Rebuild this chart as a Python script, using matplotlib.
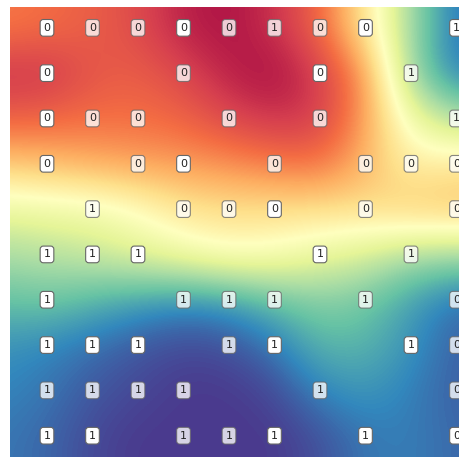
import numpy as np
import matplotlib
matplotlib.use("Agg")
import matplotlib.pyplot as plt
from matplotlib.colors import LinearSegmentedColormap

# class labels at each grid node, "." = no sample
labelRows = [
  "00000100.1",
  "0..0..0.1.",
  "000.0.0..1",
  "0.00.0.000",
  ".1.000.0.0",
  "111...1.1.",
  "1..111.1.0",
  "111.11..10",
  "1111..1..0",
  "11.111.1.0",
]

# box opacity per label: W = solid, t = see-through
boxRows = [
  "WttWtttW.W",
  "W..t..W.t.",
  "Wtt.t.t..t",
  "W.tW.t.ttt",
  ".t.ttW.t.t",
  "WWW...W.t.",
  "W..ttt.t.t",
  "WWW.tW..Wt",
  "tttt..t..t",
  "WW.ttW.W.W",
]

# probability surface, columns -1..9, rows 0..9
surface = [
  [0.22, 0.20, 0.17, 0.13, 0.05, 0.03, 0.08, 0.18, 0.42, 0.72, 0.93],
  [0.08, 0.08, 0.15, 0.17, 0.12, 0.05, 0.02, 0.10, 0.25, 0.74, 0.92],
  [0.17, 0.18, 0.20, 0.20, 0.18, 0.12, 0.08, 0.10, 0.27, 0.56, 0.70],
  [0.35, 0.33, 0.30, 0.28, 0.27, 0.25, 0.22, 0.20, 0.32, 0.45, 0.42],
  [0.58, 0.56, 0.55, 0.50, 0.42, 0.40, 0.40, 0.40, 0.40, 0.35, 0.33],
  [0.70, 0.68, 0.65, 0.60, 0.55, 0.50, 0.52, 0.58, 0.62, 0.70, 0.72],
  [0.80, 0.78, 0.82, 0.86, 0.89, 0.87, 0.80, 0.75, 0.78, 0.86, 0.93],
  [0.88, 0.90, 0.93, 0.96, 0.98, 0.97, 0.92, 0.82, 0.82, 0.88, 0.95],
  [0.90, 0.92, 0.96, 0.98, 1.00, 1.00, 0.98, 0.90, 0.87, 0.91, 0.95],
  [0.92, 0.94, 0.98, 1.00, 1.00, 1.00, 1.00, 0.97, 0.92, 0.91, 0.94],
]

spectral = ["#9e0142", "#d53e4f", "#f46d43", "#fdae61", "#fee08b", "#ffffbf",
            "#e6f598", "#abdda4", "#66c2a5", "#3288bd", "#4a3a8e"]
cmap = LinearSegmentedColormap.from_list("spectralDeep", spectral)

fig = plt.figure(figsize=(4.59, 4.57), dpi=100)
ax = fig.add_axes([10/459, 0, 449/459, 450/457])

def plotSurface():
  grid = np.array(surface)
  nRows, nCols = grid.shape
  ax.imshow(grid, cmap=cmap, vmin=0, vmax=1, interpolation="bicubic",
            extent=(-1.5, nCols - 1.5, nRows - 0.5, -0.5), aspect="auto")

def plotLabels():
  for r, (labels, boxes) in enumerate(zip(labelRows, boxRows)):
    for c, (lab, box) in enumerate(zip(labels, boxes)):
      if lab == ".":
        continue
      alpha = 1.0 if box == "W" else 0.78
      ax.text(c, r, lab, ha="center", va="center", fontsize=8, color="#222222",
              bbox=dict(boxstyle="round,pad=0.3,rounding_size=0.28", fc="white",
                        ec="#666666", lw=0.8, alpha=alpha))

plotSurface()
plotLabels()

ax.set_xlim(-0.813, 9.055)
ax.set_ylim(9.47, -0.46)
ax.axis("off")

fig.savefig("out.png", dpi=100)
